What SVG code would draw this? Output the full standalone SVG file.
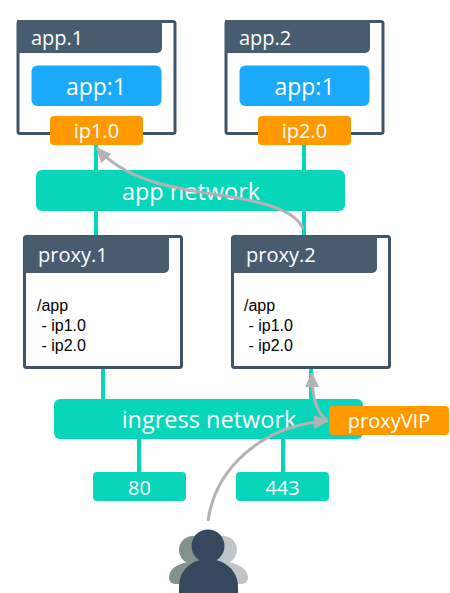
<svg xmlns="http://www.w3.org/2000/svg" width="450" height="593" viewBox="0 0 450 593">
<style>
text{font-family:"Open Sans","Noto Sans",sans-serif;fill:#fff}
.box{fill:#fff;stroke:#3f5468;stroke-width:3}
.hdr{fill:#475c6f}
.app{fill:#1aa9fb}
.ip{fill:#ff9900}
.net{fill:#07d6bb}
.c{stroke:#07d6bb;stroke-width:4;fill:none}
.g{stroke:#b3b3b3;stroke-width:3;fill:none}
.t{font-size:20px}
.a{font-size:23px}
.s{font-size:20px}
.n{font-size:23.500px}
.m{text-anchor:middle}
.b{font-family:"Liberation Sans",Arial,sans-serif;font-size:16px;fill:#000}
</style>
<defs>
<marker id="a" markerUnits="userSpaceOnUse" markerWidth="18" markerHeight="16" refX="14" refY="7" orient="auto"><path d="M0 0L15 7L0 14Z" fill="#b3b3b3"/></marker>
</defs>
<g id="connectors">
<path class="c" d="M96 145V235M304 145V235M103 368V399M311 368V399M139 439V472M283 439V472"/>
</g>
<g id="app1"><rect class="box" x="18" y="21.500" width="157" height="112" rx="2"/><path class="hdr" d="M17 20H162V48a5 5 0 0 1-5 5H17Z"/><text class="t" x="31" y="45">app.1</text></g>
<g id="app1-task"><rect class="app" x="31.500" y="65.500" width="130" height="40.500" rx="6"/><text class="a m" x="96" y="95">app:1</text></g>
<g id="ip1"><rect class="ip" x="50" y="116" width="93" height="29" rx="4"/><text class="s m" x="96.500" y="138">ip1.0</text></g>
<g id="app2"><rect class="box" x="226" y="21.500" width="157" height="112" rx="2"/><path class="hdr" d="M225 20H370V48a5 5 0 0 1-5 5H225Z"/><text class="t" x="239" y="45">app.2</text></g>
<g id="app2-task"><rect class="app" x="239.500" y="65.500" width="130" height="40.500" rx="6"/><text class="a m" x="304.500" y="95">app:1</text></g>
<g id="ip2"><rect class="ip" x="258" y="116" width="93" height="29" rx="4"/><text class="s m" x="304.500" y="138">ip2.0</text></g>
<g id="app-network"><rect class="net" x="36" y="170" width="309" height="41" rx="6"/><text class="n m" x="191" y="200">app network</text></g>
<g id="proxy1"><rect class="box" x="24.500" y="236.500" width="157" height="131" rx="2"/><path class="hdr" d="M24 236H169V268a5 5 0 0 1-5 5H24Z"/><text class="t" x="38" y="262">proxy.1</text><text class="b" x="37" y="311">/app</text><text class="b" x="37" y="331" xml:space="preserve"> - ip1.0</text><text class="b" x="37" y="351" xml:space="preserve"> - ip2.0</text></g>
<g id="proxy2"><rect class="box" x="232.500" y="236.500" width="157" height="131" rx="2"/><path class="hdr" d="M232 236H377V268a5 5 0 0 1-5 5H232Z"/><text class="t" x="246" y="262">proxy.2</text><text class="b" x="244" y="311">/app</text><text class="b" x="244" y="331" xml:space="preserve"> - ip1.0</text><text class="b" x="244" y="351" xml:space="preserve"> - ip2.0</text></g>
<g id="ingress-network"><rect class="net" x="54" y="399" width="309" height="40" rx="6"/><text class="n m" x="209" y="428">ingress network</text></g>
<g id="port80"><rect class="net" x="93" y="472" width="93" height="29" rx="4"/><text class="s m" x="139.500" y="495">80</text></g>
<g id="port443"><rect class="net" x="236" y="472" width="93" height="29" rx="4"/><text class="s m" x="282.500" y="495">443</text></g>
<g id="proxyVIP"><rect class="ip" x="329" y="406" width="120" height="29" rx="4"/><text class="s m" x="389" y="428">proxyVIP</text></g>
<g id="routes">
<path class="g" marker-end="url(#a)" d="M303 229C297 213 272 203 225 196C170 188 125 180 97 148"/>
<path class="g" marker-end="url(#a)" d="M327 420C317 414 312 400 312 373"/>
<path class="g" marker-end="url(#a)" d="M208 521C215 470 260 425 328 421"/>
</g>
<g id="users">
<circle cx="193" cy="550" r="14" fill="#84918f"/><path d="M169 578C169 568 180 562 193 562C206 562 217 568 217 578V584H175A6 6 0 0 1 169 578Z" fill="#84918f"/>
<circle cx="223" cy="550" r="14" fill="#bfc5c9"/><path d="M199 584V578C199 568 210 562 223 562C236 562 248 568 248 578A6 6 0 0 1 242 584Z" fill="#bfc5c9"/>
<circle cx="208" cy="546" r="16.500" fill="#34495e"/><path d="M179 593V587C179 570 192 559 208 559C224 559 238 570 238 587V593Z" fill="#34495e"/>
</g>
</svg>
